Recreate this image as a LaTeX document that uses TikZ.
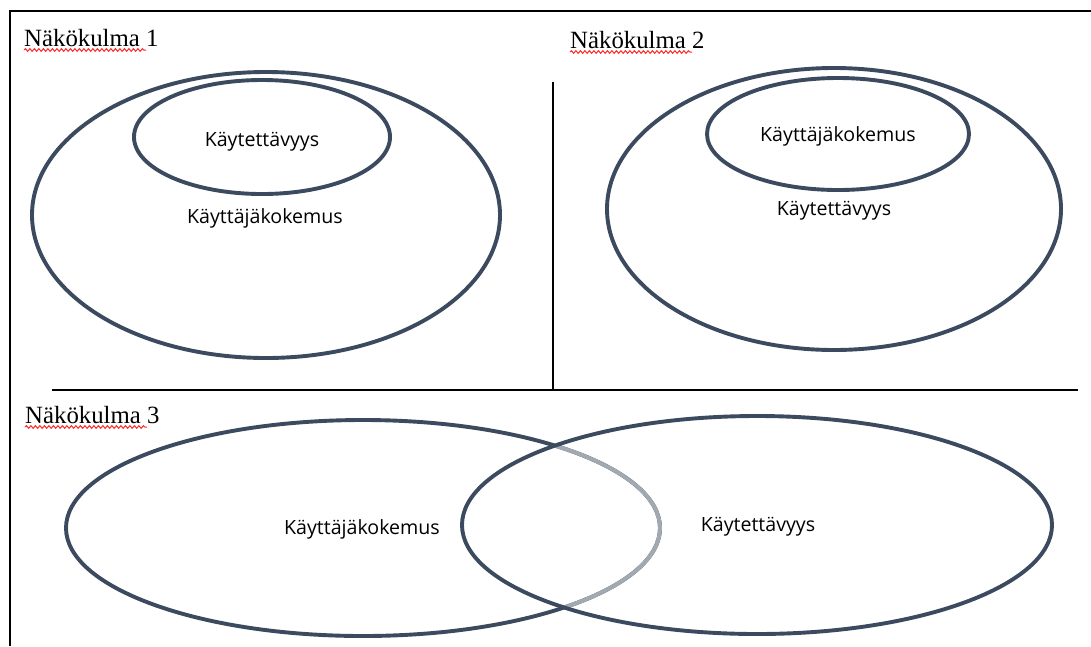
\documentclass[tikz,border=0pt]{standalone}
\usepackage{fontspec}
\setmainfont{Liberation Serif}
\newfontfamily\calfont[Ligatures=NoCommon]{Open Sans}
\usetikzlibrary{decorations.pathmorphing}
\definecolor{ringcol}{HTML}{3B4A5E}
\definecolor{fadecol}{HTML}{A3A9B1}
\tikzset{
  ring/.style={draw=ringcol, line width=3.9pt},
  fadering/.style={draw=fadecol, line width=3.9pt},
  frame/.style={draw=black, line width=2.2pt},
  sepline/.style={draw=black, line width=1.4pt},
  lbl/.style={font=\calfont\fontsize{19.6}{23}\selectfont, inner sep=0pt},
  title/.style={font=\fontsize{24.8}{28}\selectfont, inner sep=0pt, anchor=base west},
  squiggle/.style={draw=red!85!white, line width=1pt, decorate,
    decoration={snake, segment length=4.5pt, amplitude=1.3pt}}
}
\begin{document}
\begin{tikzpicture}[x=1pt,y=-1pt]
\useasboundingbox[fill=white] (0,0) rectangle (1091,646);
% frame
\coordinate (tl) at (10,11);
\coordinate (tr) at (1091,11);
\coordinate (bl) at (10,646);
\draw[frame] (tr) -- (tl) -- (bl);
% separators
\coordinate (hL) at (52,390);
\coordinate (hR) at (1078,390);
\coordinate (vT) at (553,82);
\coordinate (vB) at (553,390);
\draw[sepline] (hL) -- (hR);
\draw[sepline] (vT) -- (vB);
% titles
\node[title] (t1) at (24,46) {Näkökulma 1};
\node[title] (t2) at (570,48) {Näkökulma 2};
\node[title] (t3) at (25,423) {Näkökulma 3};
\draw[squiggle] (24,50) -- (146,50);
\draw[squiggle] (570,52) -- (692,52);
\draw[squiggle] (25,427) -- (147,427);
% view 1
\draw[ring] (266,215) ellipse [x radius=234, y radius=143];
\draw[ring] (262,137) ellipse [x radius=128, y radius=57];
\node[lbl] (a1) at (262,142) {Käytettävyys};
\node[lbl] (a2) at (265,218) {Käyttäjäkokemus};
% view 2
\draw[ring] (834,209) ellipse [x radius=227, y radius=141];
\draw[ring] (838,134) ellipse [x radius=131, y radius=56];
\node[lbl] (b1) at (838,136) {Käyttäjäkokemus};
\node[lbl] (b2) at (834,211) {Käytettävyys};
% view 3
\draw[ring] (363,528) ellipse [x radius=297, y radius=108];
\begin{scope}
  \clip (757,525) ellipse [x radius=295, y radius=109];
  \draw[fadering] (363,528) ellipse [x radius=297, y radius=108];
\end{scope}
\draw[ring] (757,525) ellipse [x radius=295, y radius=109];
\node[lbl] (c1) at (362,529) {Käyttäjäkokemus};
\node[lbl] (c2) at (758,527) {Käytettävyys};
\end{tikzpicture}
\end{document}
